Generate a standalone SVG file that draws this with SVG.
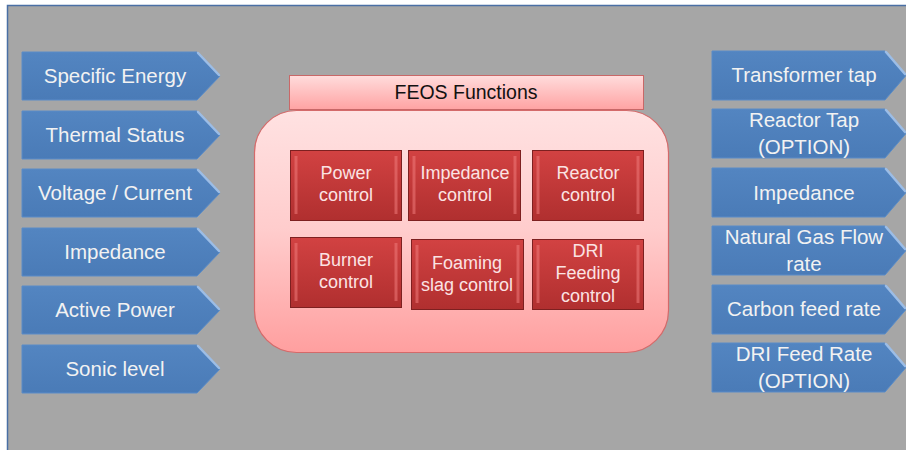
<svg xmlns="http://www.w3.org/2000/svg" width="906" height="450" viewBox="0 0 906 450">
<defs>
<linearGradient id="gBlue" x1="0" y1="0" x2="0" y2="1">
<stop offset="0" stop-color="#5385c1"/>
<stop offset="1" stop-color="#4a7bb7"/>
</linearGradient>
<linearGradient id="gHead" x1="0" y1="0" x2="0" y2="1">
<stop offset="0" stop-color="#ffdcdc"/>
<stop offset="1" stop-color="#ffa3a3"/>
</linearGradient>
<linearGradient id="gBig" x1="0" y1="0" x2="0" y2="1">
<stop offset="0" stop-color="#ffe2e2"/>
<stop offset="0.5" stop-color="#ffcccc"/>
<stop offset="1" stop-color="#ff9f9f"/>
</linearGradient>
<linearGradient id="gRed" x1="0" y1="0" x2="0" y2="1">
<stop offset="0" stop-color="#d24242"/>
<stop offset="1" stop-color="#b02f2f"/>
</linearGradient>
<path id="pL" d="M0,0 H175 L198,24 L175,48 H0 Z"/>
<path id="pR" d="M0,0 H173 L194,24.5 L173,49 H0 Z"/>
</defs>
<style>
.pent{fill:url(#gBlue);stroke:#5a8cc8;stroke-width:1}
.bev{stroke:#9cbde6;stroke-width:2.5;fill:none;stroke-linecap:round}
.lbl{font-family:"Liberation Sans",Arial,sans-serif;font-size:20.5px;fill:#f2f2f2;text-anchor:middle}
.fn{fill:url(#gRed);stroke:#7d2020;stroke-width:1}
.fhl{stroke:#ef7a7a;stroke-width:3;fill:none;opacity:0.55}
.ft{font-family:"Liberation Sans",Arial,sans-serif;font-size:18px;fill:#fbe3e3;text-anchor:middle}
</style>
<rect x="0" y="0" width="906" height="450" fill="#ffffff"/>
<rect x="7" y="5" width="899" height="445" fill="#a6a6a6"/>
<path d="M7.5,450 V5.5 H906" fill="none" stroke="#4a6fa5" stroke-width="1.5"/>

<g id="connectors"></g>

<g id="in-specific-energy" transform="translate(22,52)"><use href="#pL" class="pent"/><path class="bev" d="M176,1 L197,23"/><text class="lbl" x="93" y="31">Specific Energy</text></g>
<g id="in-thermal-status" transform="translate(22,111)"><use href="#pL" class="pent"/><path class="bev" d="M176,1 L197,23"/><text class="lbl" x="93" y="31">Thermal Status</text></g>
<g id="in-voltage-current" transform="translate(22,169)"><use href="#pL" class="pent"/><path class="bev" d="M176,1 L197,23"/><text class="lbl" x="93" y="31">Voltage / Current</text></g>
<g id="in-impedance" transform="translate(22,228)"><use href="#pL" class="pent"/><path class="bev" d="M176,1 L197,23"/><text class="lbl" x="93" y="31">Impedance</text></g>
<g id="in-active-power" transform="translate(22,286)"><use href="#pL" class="pent"/><path class="bev" d="M176,1 L197,23"/><text class="lbl" x="93" y="31">Active Power</text></g>
<g id="in-sonic-level" transform="translate(22,345)"><use href="#pL" class="pent"/><path class="bev" d="M176,1 L197,23"/><text class="lbl" x="93" y="31">Sonic level</text></g>

<g id="out-transformer-tap" transform="translate(712,51)"><use href="#pR" class="pent"/><path class="bev" d="M174,1 L193,23"/><text class="lbl" x="92" y="31">Transformer tap</text></g>
<g id="out-reactor-tap" transform="translate(712,109)"><use href="#pR" class="pent"/><path class="bev" d="M174,1 L193,23"/><text class="lbl" x="92" y="18">Reactor Tap</text><text class="lbl" x="92" y="45">(OPTION)</text></g>
<g id="out-impedance" transform="translate(712,168)"><use href="#pR" class="pent"/><path class="bev" d="M174,1 L193,23"/><text class="lbl" x="92" y="32">Impedance</text></g>
<g id="out-natural-gas" transform="translate(712,226)"><use href="#pR" class="pent"/><path class="bev" d="M174,1 L193,23"/><text class="lbl" x="92" y="18">Natural Gas Flow</text><text class="lbl" x="92" y="45">rate</text></g>
<g id="out-carbon-feed" transform="translate(712,285)"><use href="#pR" class="pent"/><path class="bev" d="M174,1 L193,23"/><text class="lbl" x="92" y="31">Carbon feed rate</text></g>
<g id="out-dri-feed" transform="translate(712,343)"><use href="#pR" class="pent"/><path class="bev" d="M174,1 L193,23"/><text class="lbl" x="92" y="18">DRI Feed Rate</text><text class="lbl" x="92" y="45">(OPTION)</text></g>

<g id="feos-container">
<rect x="254.5" y="110.5" width="414" height="242" rx="42" fill="url(#gBig)" stroke="#d46a6a" stroke-width="1.2"/>
</g>
<g id="feos-header">
<rect x="289.5" y="75.5" width="354" height="34" fill="url(#gHead)" stroke="#c86868" stroke-width="1"/>
<text x="466" y="99" font-family="'Liberation Sans',Arial,sans-serif" font-size="19.5" fill="#111" text-anchor="middle">FEOS Functions</text>
</g>

<g id="fn-power">
<rect class="fn" x="290.5" y="150.5" width="111" height="70"/>
<path class="fhl" d="M296,156 V214 M396,156 V214"/>
<text class="ft" x="346" y="179">Power</text><text class="ft" x="346" y="201">control</text>
</g>
<g id="fn-impedance">
<rect class="fn" x="408.5" y="150.5" width="112" height="70"/>
<path class="fhl" d="M414,156 V214 M515,156 V214"/>
<text class="ft" x="465" y="179">Impedance</text><text class="ft" x="465" y="201">control</text>
</g>
<g id="fn-reactor">
<rect class="fn" x="532.5" y="150.5" width="111" height="70"/>
<path class="fhl" d="M538,156 V214 M638,156 V214"/>
<text class="ft" x="588" y="179">Reactor</text><text class="ft" x="588" y="201">control</text>
</g>
<g id="fn-burner">
<rect class="fn" x="290.5" y="237.5" width="111" height="70"/>
<path class="fhl" d="M296,243 V301 M396,243 V301"/>
<text class="ft" x="346" y="266">Burner</text><text class="ft" x="346" y="288">control</text>
</g>
<g id="fn-foaming">
<rect class="fn" x="411.5" y="239.5" width="112" height="70"/>
<path class="fhl" d="M417,245 V303 M518,245 V303"/>
<text class="ft" x="467" y="269">Foaming</text><text class="ft" x="467" y="291">slag control</text>
</g>
<g id="fn-dri">
<rect class="fn" x="532.5" y="239.5" width="111" height="70"/>
<path class="fhl" d="M538,245 V303 M638,245 V303"/>
<text class="ft" x="588" y="257">DRI</text><text class="ft" x="588" y="279">Feeding</text><text class="ft" x="588" y="302">control</text>
</g>
</svg>
